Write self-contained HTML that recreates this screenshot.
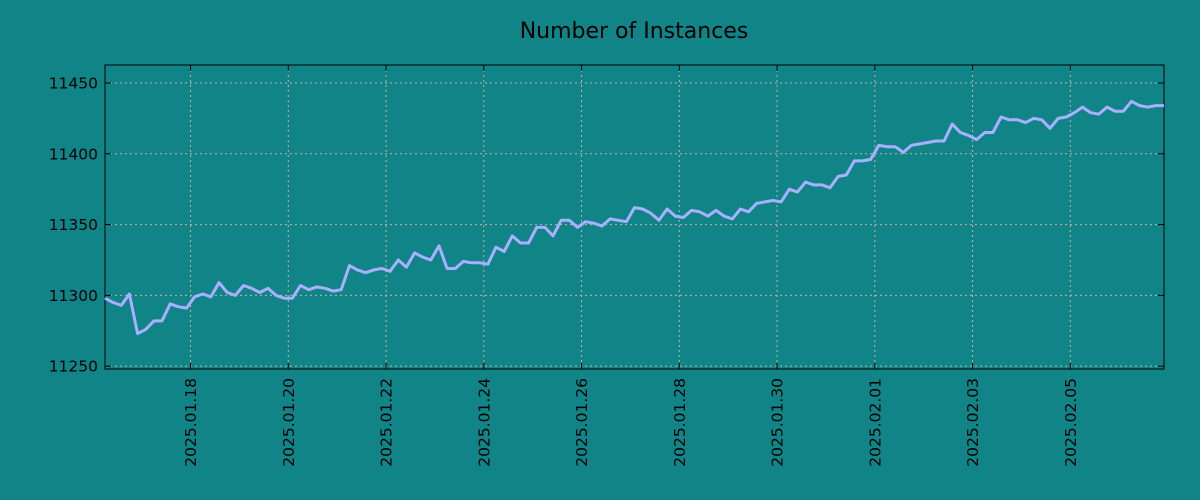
<!DOCTYPE html>
<html><head><meta charset="utf-8"><style>
body{margin:0;background:#108486;}
svg{display:block;font-family:"DejaVu Sans","Liberation Sans",sans-serif;}
</style></head><body>
<svg id="chart" width="1200" height="500">
<rect width="1200" height="500" fill="#108486"/>
<text x="634" y="38" font-size="22" text-anchor="middle" fill="#000">Number of Instances</text>
<g id="grid"></g><g id="axes"></g><g id="series"></g>
</svg>
<script>
const values=[11298,11295,11293,11301,11273,11276,11282,11282,11294,11292,
11291,11299,11301,11299,11309,11302,11300,11307,11305,11302,
11305,11300,11298,11298,11307,11304,11306,11305,11303,11304,
11321,11318,11316,11318,11319,11317,11325,11320,11330,11327,
11325,11335,11319,11319,11324,11323,11323,11322,11334,11331,
11342,11337,11337,11348,11348,11342,11353,11353,11348,11352,
11351,11349,11354,11353,11352,11362,11361,11358,11353,11361,
11356,11355,11360,11359,11356,11360,11356,11354,11361,11359,
11365,11366,11367,11366,11375,11373,11380,11378,11378,11376,
11384,11385,11395,11395,11396,11406,11405,11405,11401,11406,
11407,11408,11409,11409,11421,11415,11413,11410,11415,11415,
11426,11424,11424,11422,11425,11424,11418,11425,11426,11429,
11433,11429,11428,11433,11430,11430,11437,11434,11433,11434,11434];
const xTickLabels=["2025.01.18","2025.01.20","2025.01.22","2025.01.24","2025.01.26","2025.01.28","2025.01.30","2025.02.01","2025.02.03","2025.02.05"];
const xTickHours=[42,90,138,186,234,282,330,378,426,474];
const yTicks=[11250,11300,11350,11400,11450];
const stepHours=4;
const L=105,R=1164,T=65,B=369;
const hMax=(values.length-1)*stepHours;
const yMin=11248,yMax=11462.7;
function xs(h){return L+(h/hMax)*(R-L);}
function ys(v){return B-(v-yMin)/(yMax-yMin)*(B-T);}
const NS="http://www.w3.org/2000/svg";
function mk(tag,attrs,parent,txt){const e=document.createElementNS(NS,tag);for(const k in attrs)e.setAttribute(k,attrs[k]);if(txt!==undefined)e.textContent=txt;parent.appendChild(e);return e;}
const grid=document.getElementById('grid'),axes=document.getElementById('axes'),series=document.getElementById('series');
yTicks.forEach(v=>{const y=ys(v);
 const g=mk('line',{x1:L,x2:R,y1:y,y2:y,stroke:'#c9b0a8','stroke-width':1,'stroke-dasharray':'2,3'},grid);
 
 
 const t=mk('line',{x1:L,x2:L+6,y1:y,y2:y,stroke:'#000'},axes);
 
 
 const t2=mk('line',{x1:R-6,x2:R,y1:y,y2:y,stroke:'#000'},axes);
 
 
 const lb=mk('text',{x:L-7,y:y+5.5,'font-size':15.5,'text-anchor':'end',fill:'#000'},axes,String(v));
 
 
});
xTickHours.forEach((h,i)=>{const x=xs(h);
 const g=mk('line',{x1:x,x2:x,y1:T,y2:B,stroke:'#c9b0a8','stroke-width':1,'stroke-dasharray':'2,3'},grid);
 
 
 const t=mk('line',{x1:x,x2:x,y1:B-6,y2:B,stroke:'#000'},axes);
 
 
 const t2=mk('line',{x1:x,x2:x,y1:T,y2:T+6,stroke:'#000'},axes);
 
 
 const lb=mk('text',{x:0,y:0,'font-size':15.5,'text-anchor':'end',fill:'#000',transform:`translate(${x+5.5},378) rotate(-90)`},axes,xTickLabels[i]);
 
 
});
const frame=mk('rect',{x:L,y:T,width:R-L,height:B-T,fill:'none',stroke:'#000','stroke-width':1},axes);


const pts=values.map((v,i)=>xs(i*stepHours).toFixed(1)+','+ys(v).toFixed(1)).join(' ');
const line=mk('polyline',{points:pts,fill:'none',stroke:'#a9b0ff','stroke-width':3,'stroke-linejoin':'round'},series);


</script>
</body></html>
